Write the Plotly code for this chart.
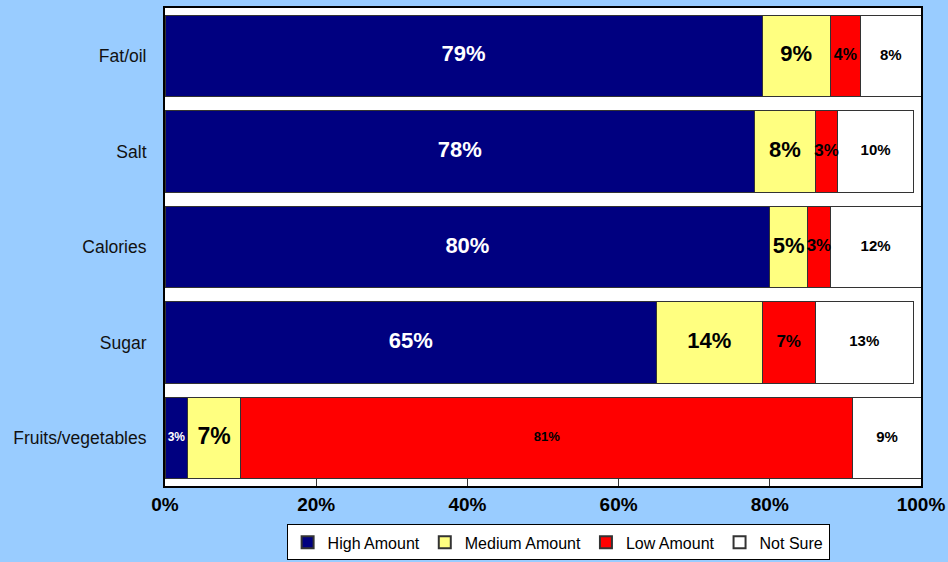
import plotly.graph_objects as go

categories = ["Fat/oil", "Salt", "Calories", "Sugar", "Fruits/vegetables"]
series_names = ["High Amount", "Medium Amount", "Low Amount", "Not Sure"]
high = [79, 78, 80, 65, 3]
medium = [9, 8, 5, 14, 7]
low = [4, 3, 3, 7, 81]
not_sure = [8, 10, 12, 13, 9]
x_ticks = [0, 20, 40, 60, 80, 100]
x_tick_labels = ["0%", "20%", "40%", "60%", "80%", "100%"]

series = [high, medium, low, not_sure]
colors = ["#000080", "#FFFF80", "#FF0000", "#FFFFFF"]
text_colors = ["white", "black", "black", "black"]
# label sizes per segment (row order as in categories)
text_sizes = [
    [22, 22, 22, 22, 12],
    [22, 22, 22, 22, 23],
    [16, 17, 17, 17, 13],
    [15, 15, 15, 15, 15],
]

FONT = "Liberation Sans, Arial, sans-serif"

fig = go.Figure()

for name, vals, col in zip(series_names, series, colors):
    fig.add_trace(go.Bar(
        y=categories, x=vals, name=name, orientation="h",
        marker=dict(color=col, line=dict(color="#333333", width=1)),
        hoverinfo="x+name",
    ))

# value labels centred in each segment
left = [0] * len(categories)
for vals, tcol, tsz in zip(series, text_colors, text_sizes):
    mids = [l + v / 2 for l, v in zip(left, vals)]
    fig.add_trace(go.Scatter(
        x=mids, y=categories, mode="text",
        text=[f"{v}%" for v in vals],
        textposition="middle center",
        textfont=dict(family=FONT, color=tcol, size=tsz, weight="bold"),
        showlegend=False, hoverinfo="skip", cliponaxis=False,
    ))
    left = [l + v for l, v in zip(left, vals)]

fig.update_layout(
    width=948, height=562,
    barmode="stack", bargap=0.15,
    paper_bgcolor="#99CCFF", plot_bgcolor="#FFFFFF",
    margin=dict(l=165, r=27, t=8, b=76, autoexpand=False),
    font=dict(family=FONT, color="black"),
    showlegend=True,
    legend=dict(
        orientation="h", x=0.52, xanchor="center", y=-0.118, yanchor="middle",
        bgcolor="white", bordercolor="black", borderwidth=1,
        font=dict(size=16, family=FONT, color="black"),
        traceorder="normal", itemwidth=30,
        itemsizing="constant",
    ),
    xaxis=dict(
        range=[0, 100], tickvals=x_ticks, ticktext=x_tick_labels,
        showgrid=False, zeroline=False,
        showline=True, linecolor="black", linewidth=2, mirror=True,
        ticks="inside", ticklen=7, tickcolor="#333333",
        tickfont=dict(size=19, family=FONT, weight="bold", color="black"),
        fixedrange=True,
    ),
    yaxis=dict(
        categoryorder="array", categoryarray=categories,
        autorange="reversed",
        showline=True, linecolor="black", linewidth=2, mirror=True,
        showgrid=False, ticks="", ticklabelstandoff=13,
        tickfont=dict(size=17.5, family=FONT, color="#111111"),
        fixedrange=True,
    ),
)

fig.write_html("out.html")
